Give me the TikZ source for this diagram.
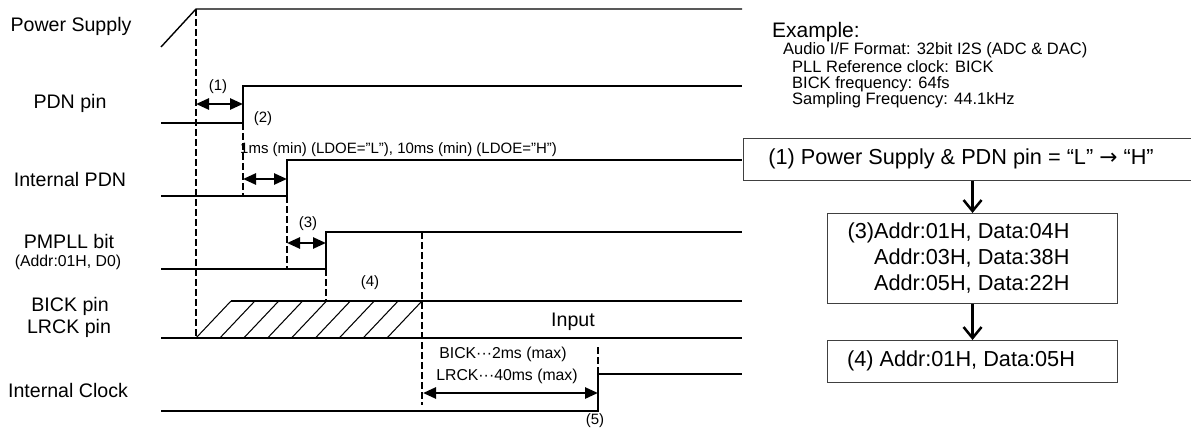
\documentclass[tikz,border=0pt]{standalone}
\usepackage{fontspec}
\setmainfont{Liberation Sans}
\newfontfamily\arrowfont{DejaVu Sans}
\usetikzlibrary{arrows.meta}
\begin{document}
\begin{tikzpicture}[x=1pt,y=-1pt,
  sig/.style={line width=1.4pt},
  hatch/.style={line width=1.05pt},
  guide/.style={line width=2.4pt, dash pattern=on 6.5pt off 3.5pt},
  dim/.style={line width=2.6pt, {Triangle[length=13pt,width=11pt]}-{Triangle[length=13pt,width=11pt]}},
  flow/.style={line width=2.5pt, -{Straight Barb[length=11pt,width=18pt]}},
  box/.style={draw=black!75, line width=1.1pt, inner sep=0pt},
  lbl/.style={inner sep=0pt, font=\fontsize{19.6}{22}\selectfont},
  ann/.style={inner sep=0pt, font=\fontsize{15}{17}\selectfont},
  exl/.style={inner sep=0pt, anchor=west, font=\fontsize{16.5}{18}\selectfont},
  btxt/.style={inner sep=0pt, font=\fontsize{21.7}{26}\selectfont}
]
\useasboundingbox (0,0) rectangle (1191,431);
\clip (0,0) rectangle (1191,431);

% left labels
\node[lbl] (lps) at (71,26) {Power Supply};
\node[lbl] (lpdn) at (70,103) {PDN pin};
\node[lbl] (lipdn) at (70,179) {Internal PDN};
\node[lbl] (lpm) at (69,241) {PMPLL bit};
\node[ann, font=\fontsize{15.8}{17}\selectfont] (lpma) at (68,262) {(Addr:01H, D0)};
\node[lbl] (lbick) at (70,306) {BICK pin};
\node[lbl] (llrck) at (69,328) {LRCK pin};
\node[lbl] (lic) at (68,390) {Internal Clock};

% signals
\draw[sig] (161,47) -- (196,9) -- (742,9);
\draw[sig] (161,123) -- (243,123) -- (243,86) -- (742,86);
\draw[sig] (161,196) -- (287,196) -- (287,160) -- (742,160);
\draw[sig] (161,269) -- (326,269) -- (326,232) -- (742,232);
\draw[sig] (161,338) -- (742,338);
\draw[sig] (231,301) -- (742,301);
\foreach \i in {0,...,8} \draw[hatch] ({196+\i*23.875},338) -- ++(35,-37);
\draw[sig] (161,411) -- (598,411) -- (598,374) -- (742,374);

% guides
\draw[guide] (196,9) -- (196,338);
\draw[guide] (243,123) -- (243,197);
\draw[guide] (287,196) -- (287,269);
\draw[guide] (326,269) -- (326,301);
\draw[guide] (422,232) -- (422,405);
\draw[guide] (598,347) -- (598,374);

% dimension arrows
\draw[dim] (196,104) -- (243,104);
\draw[dim] (243,179) -- (287,179);
\draw[dim] (287,243) -- (326,243);
\draw[dim] (423,393) -- (598,393);

% annotations
\node[ann] (a1) at (218,87) {(1)};
\node[ann] (a2) at (263,119) {(2)};
\node[ann, anchor=west] (a2t) at (240,150) {1ms (min) (LDOE=”L”), 10ms (min) (LDOE=”H”)};
\node[ann] (a3) at (308,224) {(3)};
\node[ann] (a4) at (370,283) {(4)};
\node[lbl] (inp) at (573,322) {Input};
\node[ann, font=\fontsize{15.8}{17}\selectfont] (bt) at (503,354) {BICK···2ms (max)};
\node[ann, font=\fontsize{15.8}{17}\selectfont] (lt) at (507,376) {LRCK···40ms (max)};
\node[ann] (a5) at (595,421) {(5)};

% example
\node[exl, font=\fontsize{21}{24}\selectfont] (ex) at (772,32) {Example:};
\node[exl] (ex1) at (783,50) {Audio I/F Format: 32bit I2S (ADC \& DAC)};
\node[exl] (ex2) at (792,67) {PLL Reference clock: BICK};
\node[exl] (ex3) at (792,84) {BICK frequency: 64fs};
\node[exl] (ex4) at (792,100) {Sampling Frequency: 44.1kHz};

% flow boxes
\node[box, minimum width=460pt, minimum height=42pt, anchor=north west] (b1) at (743,138) {};
\node[btxt] (t1) at (961,159) {(1) Power Supply \& PDN pin = “L” {\arrowfont →} “H”};
\node[box, minimum width=290pt, minimum height=90pt, anchor=north west] (b2) at (827,213) {};
\node[btxt, align=right] (t2) at (958.5,258) {(3)Addr:01H, Data:04H\\Addr:03H, Data:38H\\Addr:05H, Data:22H};
\node[box, minimum width=290pt, minimum height=42pt, anchor=north west] (b3) at (827,340) {};
\node[btxt] (t3) at (961,361) {(4) Addr:01H, Data:05H};

\draw[flow] (b2.north |- b1.south) -- (b2.north);
\draw[flow] (b2.south) -- (b3.north);
\end{tikzpicture}
\end{document}
